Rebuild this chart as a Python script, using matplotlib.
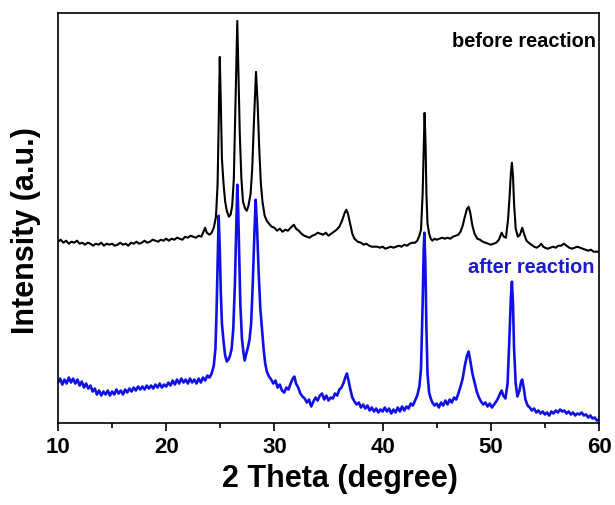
import matplotlib
matplotlib.use("Agg")
import matplotlib.pyplot as plt
from matplotlib.ticker import MultipleLocator

plt.rcParams['font.family'] = ['Liberation Sans', 'DejaVu Sans']
plt.rcParams['font.weight'] = 'bold'

# XRD pattern before reaction (offset trace)
before_x = [10.0, 10.25, 10.5, 10.75, 11.0, 11.25, 11.5, 11.75, 12.0, 12.25, 12.5, 12.75,
            13.0, 13.25, 13.5, 13.75, 14.0, 14.25, 14.5, 14.75, 15.0, 15.25, 15.5, 15.75,
            16.0, 16.25, 16.5, 16.75, 17.0, 17.25, 17.5, 17.75, 18.0, 18.25, 18.5, 18.75,
            19.0, 19.25, 19.5, 19.75, 20.0, 20.25, 20.5, 20.75, 21.0, 21.25, 21.5, 21.75,
            22.0, 22.25, 22.5, 22.75, 23.0, 23.25, 23.45, 23.6, 23.75, 24.0, 24.2, 24.4,
            24.6, 24.75, 24.85, 24.95, 25.05, 25.15, 25.3, 25.45, 25.6, 25.8, 25.95, 26.1,
            26.25, 26.4, 26.57, 26.7, 26.8, 26.95, 27.1, 27.3, 27.45, 27.6, 27.8, 27.95,
            28.1, 28.3, 28.45, 28.6, 28.75, 28.9, 29.1, 29.3, 29.5, 29.75, 30.0, 30.25,
            30.5, 30.75, 31.0, 31.25, 31.5, 31.8, 32.0, 32.25, 32.5, 32.75, 33.0, 33.25,
            33.5, 33.75, 34.0, 34.25, 34.5, 34.75, 35.0, 35.25, 35.5, 35.75, 36.0, 36.25,
            36.5, 36.65, 36.8, 37.0, 37.2, 37.4, 37.7, 38.0, 38.25, 38.5, 38.75, 39.0,
            39.5, 39.75, 40.0, 40.25, 40.5, 40.75, 41.0, 41.25, 41.5, 41.75, 42.0, 42.25,
            42.5, 42.75, 43.0, 43.2, 43.4, 43.55, 43.7, 43.8, 43.88, 43.97, 44.05, 44.15,
            44.3, 44.45, 44.6, 44.8, 45.0, 45.25, 45.5, 45.75, 46.0, 46.25, 46.5, 46.75,
            47.0, 47.2, 47.4, 47.6, 47.8, 47.95, 48.1, 48.3, 48.5, 48.75, 49.0, 49.25,
            49.5, 49.75, 50.0, 50.25, 50.5, 50.75, 51.0, 51.2, 51.4, 51.6, 51.75, 51.85,
            51.95, 52.05, 52.15, 52.3, 52.5, 52.7, 52.9, 53.1, 53.3, 53.5, 53.75, 54.0,
            54.25, 54.5, 54.65, 54.85, 55.0, 55.25, 55.5, 55.75, 56.0, 56.25, 56.5, 56.75,
            57.0, 57.25, 57.5, 57.75, 58.0, 58.25, 58.5, 58.75, 59.0, 59.25, 59.5, 59.75,
            60.0]
before_y = [182, 184, 181, 183, 180, 182, 181, 183, 180, 181, 179, 181,
            180, 178, 180, 179, 181, 178, 180, 179, 180, 178, 179, 181,
            179, 180, 178, 181, 180, 182, 180, 181, 183, 181, 182, 184,
            183, 182, 184, 183, 185, 183, 185, 184, 186, 185, 184, 187,
            186, 188, 187, 186, 188, 187, 192, 196, 191, 189, 191, 196,
            207, 240, 300, 367, 320, 265, 240, 222, 213, 207, 209, 218,
            245, 320, 403, 340, 290, 245, 222, 215, 213, 218, 230, 255,
            300, 352, 320, 275, 240, 222, 208, 203, 200, 197, 196, 193,
            195, 192, 194, 193, 196, 199, 195, 193, 190, 188, 187, 186,
            188, 189, 191, 190, 189, 191, 188, 190, 192, 194, 197, 203,
            211, 214, 210, 200, 190, 185, 182, 181, 179, 180, 178, 177,
            177, 176, 177, 175, 176, 177, 176, 177, 178, 177, 179, 178,
            180, 181, 181, 183, 188, 194, 230, 275, 311, 280, 230, 200,
            190, 185, 183, 185, 184, 185, 186, 185, 186, 185, 187, 188,
            189, 192, 198, 207, 215, 217, 211, 198, 190, 185, 184, 182,
            181, 180, 179, 180, 181, 184, 191, 187, 186, 205, 230, 250,
            261, 248, 220, 195, 187, 189, 196, 189, 183, 181, 179, 177,
            176, 178, 180, 177, 176, 175, 176, 177, 176, 178, 178, 180,
            178, 176, 175, 176, 177, 176, 175, 174, 173, 174, 172, 172,
            172]

# XRD pattern after reaction
after_x = [10.0, 10.2, 10.4, 10.6, 10.8, 11.0, 11.2, 11.4, 11.6, 11.8, 12.0, 12.2,
           12.4, 12.6, 12.8, 13.0, 13.2, 13.4, 13.6, 13.8, 14.0, 14.2, 14.4, 14.6,
           14.8, 15.0, 15.2, 15.4, 15.6, 15.8, 16.0, 16.2, 16.4, 16.6, 16.8, 17.0,
           17.2, 17.4, 17.6, 17.8, 18.0, 18.2, 18.4, 18.6, 18.8, 19.0, 19.2, 19.4,
           19.6, 19.8, 20.0, 20.2, 20.4, 20.6, 20.8, 21.0, 21.2, 21.4, 21.6, 21.8,
           22.0, 22.2, 22.4, 22.6, 22.8, 23.0, 23.2, 23.4, 23.6, 23.8, 24.0, 24.2,
           24.4, 24.55, 24.65, 24.75, 24.85, 24.95, 25.05, 25.15, 25.3, 25.45, 25.6, 25.75,
           25.9, 26.05, 26.2, 26.35, 26.5, 26.57, 26.65, 26.75, 26.85, 27.0, 27.15, 27.25,
           27.4, 27.55, 27.7, 27.85, 28.0, 28.15, 28.27, 28.4, 28.55, 28.7, 28.85, 29.0,
           29.15, 29.3, 29.5, 29.7, 29.9, 30.1, 30.3, 30.5, 30.7, 30.9, 31.1, 31.3,
           31.5, 31.7, 31.85, 32.0, 32.2, 32.4, 32.6, 32.8, 33.0, 33.2, 33.4, 33.6,
           33.8, 34.0, 34.2, 34.4, 34.6, 34.8, 35.0, 35.2, 35.4, 35.6, 35.8, 36.0,
           36.2, 36.4, 36.55, 36.7, 36.85, 37.0, 37.2, 37.4, 37.6, 37.8, 38.0, 38.2,
           38.4, 38.6, 38.8, 39.0, 39.2, 39.4, 39.6, 39.8, 40.0, 40.2, 40.4, 40.6,
           40.8, 41.0, 41.2, 41.4, 41.6, 41.8, 42.0, 42.2, 42.4, 42.6, 42.8, 43.0,
           43.2, 43.4, 43.55, 43.7, 43.8, 43.86, 43.95, 44.05, 44.15, 44.3, 44.45, 44.6,
           44.8, 45.0, 45.2, 45.4, 45.6, 45.8, 46.0, 46.2, 46.4, 46.6, 46.8, 47.0,
           47.2, 47.4, 47.6, 47.8, 47.95, 48.1, 48.3, 48.5, 48.7, 48.9, 49.1, 49.3,
           49.5, 49.7, 49.9, 50.1, 50.3, 50.5, 50.7, 50.9, 51.0, 51.15, 51.35, 51.55,
           51.7, 51.85, 51.95, 52.05, 52.15, 52.3, 52.46, 52.65, 52.8, 52.9, 53.05, 53.2,
           53.4, 53.6, 53.8, 54.0, 54.2, 54.4, 54.6, 54.8, 55.0, 55.2, 55.4, 55.6,
           55.8, 56.0, 56.2, 56.4, 56.6, 56.8, 57.0, 57.2, 57.4, 57.6, 57.8, 58.0,
           58.2, 58.4, 58.6, 58.8, 59.0, 59.2, 59.4, 59.6, 59.8, 60.0]
after_y = [41, 45, 39, 44, 40, 46, 41, 45, 40, 44, 38, 42,
           36, 40, 35, 38, 32, 35, 29, 33, 28, 32, 29, 33,
           28, 32, 29, 34, 30, 33, 29, 34, 31, 35, 32, 36,
           33, 37, 34, 37, 34, 38, 35, 38, 35, 39, 36, 40,
           36, 39, 37, 41, 38, 43, 39, 44, 40, 45, 41, 44,
           40, 45, 41, 44, 40, 45, 41, 46, 43, 48, 46, 50,
           58, 75, 110, 160, 208, 175, 130, 100, 82, 68, 62, 64,
           68, 75, 95, 140, 210, 239, 215, 165, 120, 85, 70, 63,
           70, 76, 84, 100, 140, 190, 224, 195, 150, 115, 95, 75,
           60, 52, 47, 44, 40, 43, 36, 39, 33, 31, 36, 34,
           40, 45, 47, 40, 36, 30, 27, 25, 21, 24, 17, 22,
           26, 23, 28, 30, 24, 28, 23, 26, 25, 30, 28, 34,
           36, 41, 46, 50, 43, 35, 26, 22, 19, 21, 16, 19,
           15, 18, 13, 16, 12, 15, 11, 14, 12, 16, 12, 15,
           10, 14, 11, 16, 12, 17, 13, 17, 15, 20, 18, 23,
           28, 37, 55, 120, 175, 191, 160, 95, 50, 31, 25, 21,
           18, 20, 16, 21, 18, 23, 19, 24, 21, 26, 24, 30,
           37, 45, 58, 68, 72, 63, 50, 41, 32, 26, 22, 19,
           21, 17, 20, 16, 19, 22, 26, 31, 33, 28, 25, 40,
           80, 125, 142, 120, 75, 40, 27, 33, 42, 44, 35, 24,
           18, 16, 13, 15, 11, 13, 10, 12, 9, 11, 8, 12,
           10, 13, 11, 14, 12, 13, 10, 12, 9, 11, 8, 10,
           9, 11, 8, 9, 6, 8, 5, 6, 3, 4]

fig = plt.figure(figsize=(6.15, 5.05), dpi=100)
ax = fig.add_axes([0.0943, 0.1614, 0.8797, 0.8129])

ax.plot(before_x, before_y, color='black', lw=1.5)
ax.plot(after_x, after_y, color='#1010e6', lw=1.9)

ax.set_xlim(10, 60)
ax.set_ylim(0, 411)
ax.xaxis.set_major_locator(MultipleLocator(10))
ax.xaxis.set_minor_locator(MultipleLocator(5))
ax.set_yticks([])
ax.tick_params(axis='x', which='major', direction='out', length=6, width=1.2,
               labelsize=16, pad=4)
ax.tick_params(axis='x', which='minor', direction='out', length=3.5, width=1.2)
for lab in ax.get_xticklabels():
    lab.set_fontweight('bold')
for sp in ax.spines.values():
    sp.set_linewidth(1.2)

ax.set_xlabel('2 Theta (degree)', fontsize=22, fontweight='bold')
ax.xaxis.set_label_coords(0.521, -0.098)
ax.set_ylabel('Intensity (a.u.)', fontsize=22, fontweight='bold')
ax.yaxis.set_label_coords(-0.032, 0.47)

ax.text(0.995, 0.917, 'before reaction', transform=ax.transAxes, ha='right',
        va='baseline', fontsize=14.4, fontweight='bold', color='black')
ax.text(0.992, 0.367, 'after reaction', transform=ax.transAxes, ha='right',
        va='baseline', fontsize=14.4, fontweight='bold', color='#1a1ad0')

fig.savefig('out.png', dpi=100)
